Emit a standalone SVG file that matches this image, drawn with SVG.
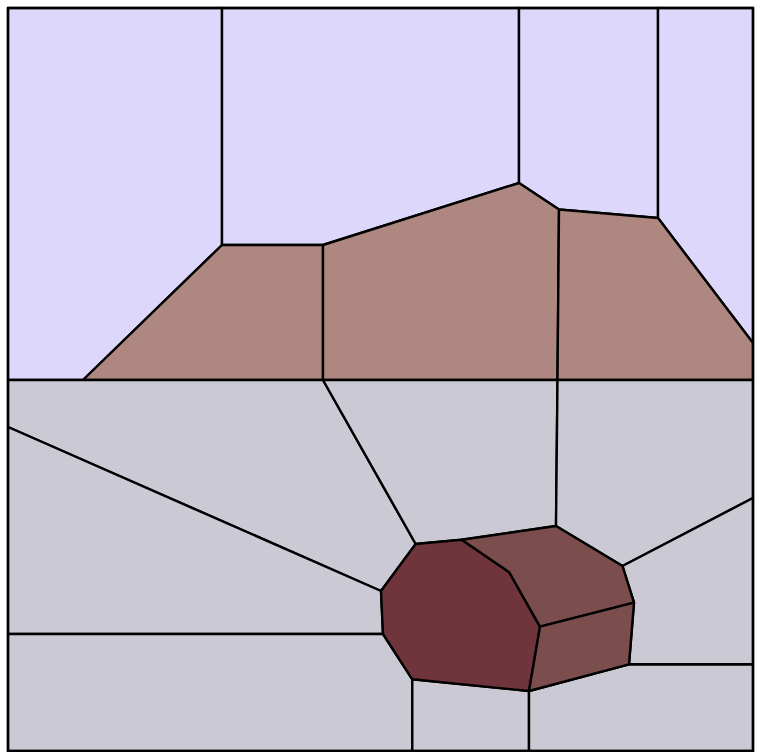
<svg xmlns="http://www.w3.org/2000/svg" width="764" height="752" viewBox="0 0 764 752">
<style>
.c{stroke:#000;stroke-width:2.4;stroke-linejoin:round}
.lav{fill:#DDD7FB}
.brn{fill:#AE8781}
.gry{fill:#CBCAD4}
.drk{fill:#70353C}
.mid{fill:#7B4D4D}
</style>
<rect x="0" y="0" width="764" height="752" fill="#fff"/>
<g id="cell1"><polygon class="c lav" points="8,8 222,8 222,245 83,380 8,380"/></g>
<g id="cell2"><polygon class="c lav" points="222,8 519,8 519,183 323,245 222,245"/></g>
<g id="cell3"><polygon class="c lav" points="519,8 658,8 658,218 559,209.5 519,183"/></g>
<g id="cell4"><polygon class="c lav" points="658,8 753,8 753,343 658,218"/></g>
<g id="cell5"><polygon class="c brn" points="222,245 323,245 323,380 83,380"/></g>
<g id="cell6"><polygon class="c brn" points="323,245 519,183 559,209.5 557.5,380 323,380"/></g>
<g id="cell7"><polygon class="c brn" points="559,209.5 658,218 753,343 753,380 557.5,380"/></g>
<g id="cell8"><polygon class="c gry" points="8,380 323,380 415.7,544 381,591 8,427"/></g>
<g id="cell9"><polygon class="c gry" points="323,380 557.5,380 556,526 461.7,539.7 415.7,544"/></g>
<g id="cell10"><polygon class="c gry" points="557.5,380 753,380 753,498 622.5,566 556,526"/></g>
<g id="cell11"><polygon class="c gry" points="8,427 381,591 383,634 8,634"/></g>
<g id="cell12"><polygon class="c gry" points="8,634 383,634 412.3,679.3 412.3,751 8,751"/></g>
<g id="cell13"><polygon class="c gry" points="412.3,679.3 529,691 529,751 412.3,751"/></g>
<g id="cell14"><polygon class="c gry" points="529,691 629,664.3 753,664.3 753,751 529,751"/></g>
<g id="cell15"><polygon class="c gry" points="622.5,566 753,498 753,664.3 629,664.3 634,602.7"/></g>
<g id="cell16"><polygon class="c drk" points="415.7,544 461.7,539.7 509.3,572.3 540,626.7 529,691 412.3,679.3 383,634 381,591"/></g>
<g id="cell17"><polygon class="c mid" points="461.7,539.7 556,526 622.5,566 634,602.7 540,626.7 509.3,572.3"/></g>
<g id="cell18"><polygon class="c mid" points="540,626.7 634,602.7 629,664.3 529,691"/></g>
<g id="connectors"><rect x="8" y="8" width="745" height="743" fill="none" stroke="#000" stroke-width="2.4"/></g>
</svg>
